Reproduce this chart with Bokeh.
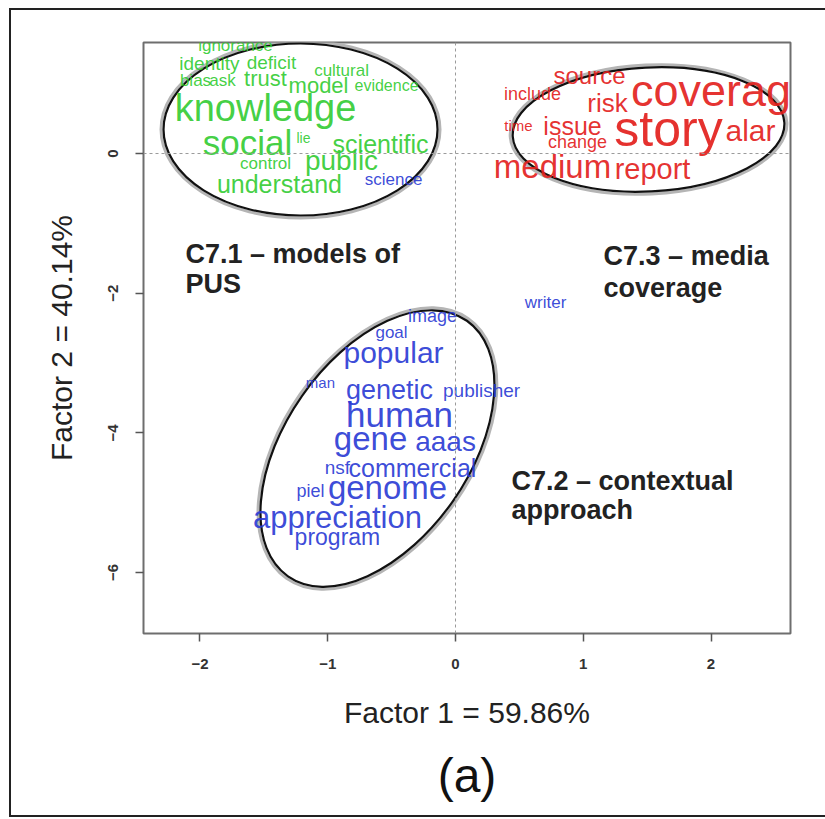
from bokeh.plotting import figure
from bokeh.models import Range1d, FixedTicker, Span, ColumnDataSource, Title
from bokeh.core.properties import value
from bokeh.embed import file_html
from bokeh.resources import INLINE

# ---------------- data ----------------
green_words = ["ignorance", "identity", "deficit", "bias", "ask", "trust", "cultural", "model",
               "evidence", "knowledge", "social", "lie", "scientific", "control", "public", "understand"]
green_x = [-1.722, -1.926, -1.440, -2.035, -1.824, -1.487, -0.892, -1.072,
           -0.540, -1.487, -1.628, -1.190, -0.587, -1.487, -0.892, -1.378]
green_y = [1.547, 1.289, 1.303, 1.045, 1.045, 1.074, 1.189, 0.974,
           0.974, 0.659, 0.158, 0.229, 0.143, -0.143, -0.100, -0.430]
green_w = [17, 19, 19, 17, 17, 22, 17, 22, 16, 38, 35, 14, 25, 17, 28, 25]

red_words = ["source", "include", "risk", "coverage", "time", "issue", "change", "story",
             "alar", "medium", "report"]
red_x = [1.049, 0.603, 1.190, 2.098, 0.493, 0.916, 0.955, 1.667, 2.309, 0.759, 1.542]
red_y = [1.117, 0.859, 0.730, 0.902, 0.401, 0.387, 0.158, 0.358, 0.329, -0.186, -0.215]
red_w = [24, 18, 26, 45, 15, 25, 18, 50, 30, 33, 29]

blue_words = ["science", "writer", "image", "goal", "popular", "man", "genetic", "publisher",
              "human", "gene", "aaas", "nsf", "commercial", "piel", "genome", "appreciation", "program"]
blue_x = [-0.485, 0.705, -0.180, -0.501, -0.485, -1.057, -0.517, 0.204,
          -0.438, -0.665, -0.078, -0.924, -0.337, -1.135, -0.532, -0.924, -0.924]
blue_y = [-0.372, -2.134, -2.320, -2.563, -2.850, -3.279, -3.380, -3.394,
          -3.738, -4.081, -4.124, -4.497, -4.497, -4.840, -4.783, -5.213, -5.499]
blue_w = [17, 17, 18, 17, 30, 15, 27, 19, 35, 33, 28, 19, 25, 18, 33, 31, 23]

# cluster ellipses (centre in data units)
ell_x = [-1.213, 1.511, -0.611]
ell_y = [0.344, 0.344, -4.225]

cluster_lines = ["C7.1 \u2013 models of", "PUS", "C7.3 \u2013 media", "coverage",
                 "C7.2 \u2013 contextual", "approach"]
cluster_x = [-2.113, -2.113, 1.159, 1.159, 0.438, 0.438]
cluster_y = [-1.432, -1.862, -1.461, -1.919, -4.683, -5.112]

x_ticks = [-2, -1, 0, 1, 2]
y_ticks = [-6, -4, -2, 0]
x_label = "Factor 1 = 59.86%"
y_label = "Factor 2 = 40.14%"
panel_label = "(a)"

# ---------------- figure ----------------
FONT = "Liberation Sans"
p = figure(width=825, height=819, output_backend="svg", toolbar_location=None,
           x_range=Range1d(-2.442, 2.622), y_range=Range1d(-6.874, 1.59),
           min_border_left=143, min_border_right=35, min_border_top=42, min_border_bottom=186)
p.grid.visible = False
p.outline_line_color = "#6e6e6e"
p.outline_line_width = 2
p.background_fill_color = "white"
p.border_fill_alpha = 0
# outer panel frame drawn behind the (transparent) canvas border
line = "linear-gradient(#222222,#222222)"
p.styles = {
    "background": (f"{line} 9px 8px / 2px 809px no-repeat, "
                   f"{line} 9px 8px / 830px 2px no-repeat, "
                   f"{line} 9px 815px / 830px 2px no-repeat, #ffffff"),
}

for ax, ticks in ((p.xaxis[0], x_ticks), (p.yaxis[0], y_ticks)):
    ax.ticker = FixedTicker(ticks=ticks)
    ax.axis_line_color = None
    ax.major_tick_out = 8
    ax.major_tick_in = 0
    ax.major_tick_line_color = "#555555"
    ax.major_tick_line_width = 1.5
    ax.minor_tick_line_color = None
    ax.major_label_text_font = FONT
    ax.major_label_text_font_size = "15px"
    ax.major_label_text_font_style = "bold"
    ax.major_label_text_color = "#333333"
    ax.major_label_standoff = 17
    ax.axis_label_text_font = FONT
    ax.axis_label_text_font_size = "30px"
    ax.axis_label_text_font_style = "normal"
    ax.axis_label_text_color = "#222222"

p.xaxis.axis_label = x_label
p.yaxis.axis_label = y_label
p.xaxis.axis_label_standoff = 24
p.yaxis.axis_label_standoff = 28
p.yaxis.major_label_orientation = "vertical"

p.add_layout(Title(text=panel_label, align="center", text_font=FONT, text_font_size="48px",
                   text_font_style="normal", text_color="#111111", standoff=30), "below")

# reference lines at 0
p.add_layout(Span(location=0, dimension="height", line_color="#9a9a9a", line_dash="3 3", line_width=1))
p.add_layout(Span(location=0, dimension="width", line_color="#9a9a9a", line_dash="3 3", line_width=1))

# ellipses: gray halo then black outline
ell_src = ColumnDataSource(dict(x=ell_x, y=ell_y))
w_px = [274, 272, 312]
h_px = [172, 124, 184]
ang = [0.0, 0.05, 0.96]
ell_src.data["w"] = w_px
ell_src.data["h"] = h_px
ell_src.data["a"] = ang
ell_src.data["w2"] = [v + 5 for v in w_px]
ell_src.data["h2"] = [v + 5 for v in h_px]
p.ellipse(x="x", y="y", width="w2", height="h2", angle="a", source=ell_src,
          width_units="screen", height_units="screen", fill_color=None,
          line_color="#b5b5b5", line_width=3)
p.ellipse(x="x", y="y", width="w", height="h", angle="a", source=ell_src,
          width_units="screen", height_units="screen", fill_color=None,
          line_color="#111111", line_width=2.2)

def add_words(words, xs, ys, ws, color):
    src = ColumnDataSource(dict(x=xs, y=ys, t=words, s=["%dpx" % w for w in ws]))
    p.text(x="x", y="y", text="t", source=src, text_font=value(FONT), text_font_size="s",
           text_color=color, text_align="center", text_baseline="middle", text_alpha=0.92)

add_words(green_words, green_x, green_y, green_w, "#33cc33")
add_words(red_words, red_x, red_y, red_w, "#e3201c")
add_words(blue_words, blue_x, blue_y, blue_w, "#2b3bd4")

csrc = ColumnDataSource(dict(x=cluster_x, y=cluster_y, t=cluster_lines))
p.text(x="x", y="y", text="t", source=csrc, text_font=value(FONT), text_font_size="27px",
       text_font_style="bold", text_color="#222222", text_align="left", text_baseline="alphabetic")

open("out.html", "w").write(file_html(p, INLINE))
